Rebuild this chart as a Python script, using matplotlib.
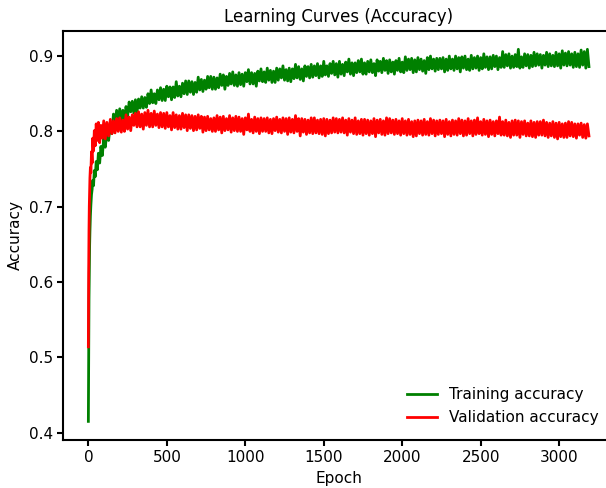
import numpy as np
import matplotlib
matplotlib.use("Agg")
import matplotlib.pyplot as plt

# epochs of the first, steep part of training
epochs_early = [0, 2, 4, 6, 8, 10, 13, 16, 20, 24, 28, 33, 38, 44, 50,
                57, 64, 72, 80, 89, 98, 108, 118, 129, 140, 150]
train_early = [0.415, 0.512, 0.578, 0.620, 0.648, 0.667, 0.688, 0.702, 0.716,
               0.723, 0.735, 0.728, 0.748, 0.740, 0.760, 0.749, 0.771, 0.758,
               0.780, 0.768, 0.791, 0.779, 0.800, 0.788, 0.810, 0.797]
val_early = [0.514, 0.612, 0.668, 0.701, 0.722, 0.738, 0.752, 0.745, 0.773,
             0.758, 0.791, 0.774, 0.801, 0.781, 0.810, 0.788, 0.812, 0.785,
             0.808, 0.791, 0.814, 0.790, 0.812, 0.794, 0.816, 0.797]

# rest of the run, one value every 10 epochs (one row = 160 epochs)
epochs_main = np.arange(160, 3200, 10)
train_main = [
    0.823, 0.810, 0.828, 0.814, 0.830, 0.815, 0.828, 0.814, 0.833, 0.820, 0.839, 0.826, 0.840, 0.824, 0.842, 0.825,
    0.843, 0.831, 0.846, 0.831, 0.845, 0.832, 0.850, 0.837, 0.855, 0.838, 0.850, 0.837, 0.855, 0.842, 0.858, 0.841,
    0.856, 0.841, 0.860, 0.846, 0.859, 0.842, 0.859, 0.845, 0.866, 0.847, 0.860, 0.846, 0.864, 0.850, 0.867, 0.849,
    0.867, 0.852, 0.866, 0.849, 0.865, 0.852, 0.872, 0.855, 0.869, 0.853, 0.868, 0.856, 0.873, 0.858, 0.873, 0.856,
    0.872, 0.856, 0.871, 0.858, 0.876, 0.861, 0.875, 0.856, 0.873, 0.861, 0.877, 0.863, 0.879, 0.861, 0.875, 0.860,
    0.878, 0.862, 0.876, 0.860, 0.878, 0.866, 0.882, 0.863, 0.878, 0.863, 0.877, 0.860, 0.880, 0.867, 0.883, 0.866,
    0.879, 0.865, 0.884, 0.868, 0.881, 0.865, 0.880, 0.865, 0.884, 0.868, 0.883, 0.871, 0.887, 0.868, 0.882, 0.867,
    0.884, 0.866, 0.883, 0.870, 0.889, 0.871, 0.886, 0.869, 0.883, 0.867, 0.887, 0.873, 0.886, 0.871, 0.889, 0.872,
    0.887, 0.874, 0.890, 0.871, 0.887, 0.873, 0.893, 0.875, 0.887, 0.873, 0.890, 0.877, 0.893, 0.875, 0.890, 0.872,
    0.893, 0.876, 0.889, 0.874, 0.892, 0.879, 0.896, 0.876, 0.891, 0.874, 0.891, 0.878, 0.894, 0.879, 0.896, 0.876,
    0.891, 0.876, 0.893, 0.879, 0.895, 0.878, 0.890, 0.874, 0.895, 0.880, 0.893, 0.878, 0.897, 0.881, 0.894, 0.877,
    0.895, 0.879, 0.892, 0.876, 0.894, 0.881, 0.897, 0.879, 0.892, 0.878, 0.899, 0.881, 0.896, 0.882, 0.897, 0.878,
    0.895, 0.879, 0.898, 0.882, 0.896, 0.880, 0.894, 0.877, 0.898, 0.882, 0.900, 0.883, 0.896, 0.880, 0.897, 0.882,
    0.897, 0.883, 0.898, 0.879, 0.896, 0.881, 0.900, 0.883, 0.896, 0.881, 0.900, 0.883, 0.898, 0.879, 0.899, 0.884,
    0.900, 0.882, 0.896, 0.881, 0.901, 0.883, 0.898, 0.884, 0.900, 0.881, 0.898, 0.883, 0.903, 0.885, 0.899, 0.882,
    0.899, 0.883, 0.901, 0.886, 0.900, 0.882, 0.898, 0.885, 0.906, 0.885, 0.902, 0.887, 0.903, 0.884, 0.900, 0.885,
    0.902, 0.886, 0.909, 0.884, 0.899, 0.885, 0.903, 0.887, 0.902, 0.884, 0.901, 0.886, 0.905, 0.887, 0.903, 0.888,
    0.902, 0.884, 0.901, 0.888, 0.905, 0.886, 0.903, 0.887, 0.901, 0.886, 0.905, 0.887, 0.903, 0.884, 0.907, 0.888,
    0.904, 0.887, 0.906, 0.888, 0.903, 0.885, 0.905, 0.886, 0.903, 0.885, 0.908, 0.888, 0.906, 0.884, 0.909, 0.886,
]
val_main = [
    0.814, 0.798, 0.817, 0.800, 0.818, 0.799, 0.815, 0.800, 0.822, 0.803, 0.819, 0.801, 0.822, 0.808, 0.824, 0.806,
    0.826, 0.806, 0.823, 0.803, 0.825, 0.808, 0.828, 0.806, 0.824, 0.806, 0.827, 0.808, 0.823, 0.805, 0.825, 0.806,
    0.824, 0.804, 0.825, 0.806, 0.821, 0.802, 0.825, 0.805, 0.822, 0.803, 0.821, 0.803, 0.824, 0.805, 0.822, 0.801,
    0.822, 0.804, 0.821, 0.801, 0.820, 0.802, 0.822, 0.804, 0.820, 0.799, 0.819, 0.801, 0.820, 0.802, 0.817, 0.800,
    0.818, 0.800, 0.821, 0.802, 0.819, 0.798, 0.820, 0.801, 0.817, 0.802, 0.821, 0.799, 0.818, 0.801, 0.820, 0.800,
    0.819, 0.800, 0.817, 0.796, 0.818, 0.802, 0.823, 0.800, 0.816, 0.798, 0.819, 0.800, 0.817, 0.797, 0.818, 0.800,
    0.817, 0.800, 0.818, 0.798, 0.816, 0.797, 0.817, 0.801, 0.819, 0.799, 0.816, 0.798, 0.818, 0.800, 0.817, 0.796,
    0.818, 0.799, 0.816, 0.798, 0.821, 0.800, 0.817, 0.794, 0.817, 0.799, 0.816, 0.796, 0.815, 0.798, 0.818, 0.797,
    0.818, 0.798, 0.815, 0.797, 0.816, 0.796, 0.817, 0.794, 0.816, 0.797, 0.815, 0.798, 0.818, 0.799, 0.817, 0.798,
    0.816, 0.799, 0.818, 0.798, 0.815, 0.795, 0.817, 0.799, 0.815, 0.797, 0.818, 0.796, 0.814, 0.797, 0.816, 0.795,
    0.816, 0.797, 0.815, 0.795, 0.814, 0.797, 0.817, 0.793, 0.815, 0.798, 0.816, 0.796, 0.814, 0.795, 0.818, 0.797,
    0.817, 0.798, 0.815, 0.796, 0.816, 0.797, 0.814, 0.795, 0.817, 0.797, 0.814, 0.795, 0.816, 0.796, 0.813, 0.793,
    0.814, 0.794, 0.815, 0.797, 0.814, 0.795, 0.816, 0.796, 0.813, 0.795, 0.817, 0.797, 0.815, 0.794, 0.814, 0.796,
    0.815, 0.797, 0.814, 0.793, 0.816, 0.796, 0.813, 0.794, 0.815, 0.796, 0.814, 0.795, 0.817, 0.797, 0.815, 0.794,
    0.814, 0.795, 0.817, 0.797, 0.814, 0.794, 0.815, 0.796, 0.818, 0.797, 0.813, 0.795, 0.816, 0.796, 0.814, 0.793,
    0.815, 0.796, 0.813, 0.794, 0.814, 0.797, 0.819, 0.795, 0.813, 0.795, 0.815, 0.794, 0.812, 0.792, 0.814, 0.795,
    0.815, 0.795, 0.814, 0.792, 0.813, 0.796, 0.814, 0.794, 0.811, 0.794, 0.814, 0.793, 0.812, 0.792, 0.813, 0.795,
    0.813, 0.795, 0.815, 0.794, 0.812, 0.792, 0.811, 0.794, 0.813, 0.792, 0.811, 0.790, 0.812, 0.793, 0.810, 0.792,
    0.811, 0.792, 0.813, 0.794, 0.812, 0.793, 0.810, 0.791, 0.810, 0.795, 0.811, 0.792, 0.809, 0.791, 0.810, 0.794,
]

epochs = np.concatenate([epochs_early, epochs_main])
train_acc = np.concatenate([train_early, train_main])
val_acc = np.concatenate([val_early, val_main])

fig = plt.figure(figsize=(6.06, 4.88), dpi=100)
# the original is cut off on the right, so the axes run past the figure edge
ax = fig.add_axes([0.1045, 0.0984, 0.9087, 0.8387])

ax.plot(epochs, train_acc, color="green", lw=2, label="Training accuracy")
ax.plot(epochs, val_acc, color="red", lw=2, label="Validation accuracy")

ax.set_xticks([0, 500, 1000, 1500, 2000, 2500, 3000])
ax.set_title("Learning Curves (Accuracy)", fontsize=12)
ax.set_xlabel("Epoch", fontsize=11)
ax.set_ylabel("Accuracy", fontsize=11)
ax.tick_params(labelsize=11, width=1.5, length=4)
for s in ax.spines.values():
    s.set_linewidth(1.5)
ax.spines["right"].set_visible(False)

ax.legend(loc="lower right", bbox_to_anchor=(1.011, 0.101),
          bbox_transform=fig.transFigure, frameon=False, fontsize=11)

plt.savefig("out.png", dpi=100)
